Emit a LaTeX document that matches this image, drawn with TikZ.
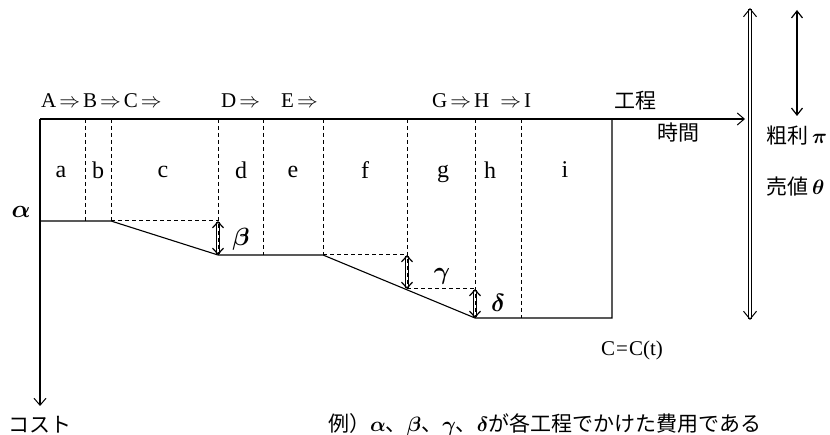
\documentclass[tikz,border=0pt]{standalone}
\usepackage{fontspec}
\usepackage{amsmath}
\setmainfont{Liberation Serif}
\newfontfamily\jp{Noto Sans CJK JP}
\usetikzlibrary{arrows.meta}
\newcommand{\rar}{\hspace{3pt}$\Rightarrow$\hspace{3pt}}
\newcommand{\gk}[1]{{\fontsize{22}{26}\selectfont$\boldsymbol{#1}$}}
\begin{document}
\begin{tikzpicture}[x=1pt,y=-1pt,
  lbl/.style={inner sep=0pt, font=\fontsize{21}{25}\selectfont},
  col/.style={inner sep=0pt, font=\fontsize{24}{28}\selectfont},
  gr/.style={inner sep=0pt, font=\fontsize{23}{27}\selectfont},
  jpl/.style={inner sep=0pt, font=\fontsize{21}{25}\selectfont\jp},
  axis/.style={line width=1.1pt},
  dsh/.style={line width=1pt, dash pattern=on 4pt off 3pt},
  tip/.style={-{Straight Barb[length=7pt,width=12pt,line width=1pt]}},
  dbl/.style={double, double distance=2.6pt, line width=1pt,
    {Straight Barb[length=6pt,width=11pt,line width=1.2pt]}-{Straight Barb[length=6pt,width=11pt,line width=1.2pt]}},
  bigdbl/.style={double, double distance=2.6pt, line width=1pt,
    {Straight Barb[length=8pt,width=13pt,line width=1pt]}-{Straight Barb[length=8pt,width=13pt,line width=1pt]}},
  sgl/.style={line width=1.6pt,
    {Straight Barb[length=7pt,width=11pt,line width=1.2pt]}-{Straight Barb[length=7pt,width=11pt,line width=1.2pt]}},
]
\useasboundingbox (0,0) rectangle (830,435);
% coordinates
\coordinate (O) at (40,119);
\coordinate (T) at (745,119);
\coordinate (K) at (40,406);
\coordinate (c0) at (40,221);
\coordinate (c1) at (111,221);
\coordinate (c2) at (218,255);
\coordinate (c3) at (323,255);
\coordinate (c4) at (475,318);
\coordinate (c5) at (612,318);
\coordinate (c6) at (612,119);
\coordinate (g1) at (407,289);
\coordinate (b1) at (218,221);
\coordinate (g0) at (407,255);
\coordinate (v85a) at (85,119);  \coordinate (v85b) at (85,221);
\coordinate (v111a) at (111,119);
\coordinate (v218a) at (218,119);
\coordinate (v263a) at (263,119); \coordinate (v263b) at (263,255);
\coordinate (v323a) at (323,119);
\coordinate (v407a) at (407,119);
\coordinate (v475a) at (475,119);
\coordinate (v521a) at (521,119); \coordinate (v521b) at (521,318);
\coordinate (R1) at (750,8);  \coordinate (R2) at (750,320);
\coordinate (S1) at (797,10); \coordinate (S2) at (797,116);

% double arrows (drawn first so dashed verticals show inside)
\draw[dbl] (b1) -- (c2);
\draw[dbl] (g0) -- (g1);
\draw[dbl] (g1 -| c4) -- (c4);

% dashed lines
\draw[dsh] (v85a) -- (v85b);
\draw[dsh] (v111a) -- (c1);
\draw[dsh] (v218a) -- (c2);
\draw[dsh] (v263a) -- (v263b);
\draw[dsh] (v323a) -- (c3);
\draw[dsh] (v407a) -- (g1);
\draw[dsh] (v475a) -- (c4);
\draw[dsh] (v521a) -- (v521b);
\draw[dsh] (c1) -- (b1);
\draw[dsh] (c3) -- (g0);
\draw[dsh] (g1) -- (g1 -| c4);

% axes
\draw[axis,tip] (O) -- (T);
\draw[axis,tip] (O) -- (K);
% cost curve
\draw[axis] (c0) -- (c1) -- (c2) -- (c3) -- (c4) -- (c5) -- (c6);

% right arrows
\draw[bigdbl] (R1) -- (R2);
\draw[sgl] (S1) -- (S2);

% top labels
\node[lbl,anchor=west] (l1) at (41,101) {A\rar B\rar C\rar};
\node[lbl,anchor=west] (l2) at (221,101) {D\rar};
\node[lbl,anchor=west] (l3) at (281,101) {E\rar};
\node[lbl,anchor=west] (l4) at (432,101) {G\rar H\hspace{8pt}\rar I};
\node[jpl] (l5) at (635,101) {工程};
\node[jpl] (l6) at (678,133) {時間};

% column letters
\node[col] (a) at (61,172) {a};
\node[col] (b) at (98,170) {b};
\node[col] (c) at (163,172) {c};
\node[col] (d) at (241,170) {d};
\node[col] (e) at (293,172) {e};
\node[col] (f) at (365,170) {f};
\node[col] (g) at (443,174) {g};
\node[col] (h) at (490,170) {h};
\node[col] (i) at (565,170) {i};

% greek labels
\node[gr] (al) at (21,212) {$\boldsymbol{\alpha}$};
\node[gr] (be) at (241,239) {$\boldsymbol{\beta}$};
\node[gr] (ga) at (442,276) {$\boldsymbol{\gamma}$};
\node[gr] (de) at (498,303) {$\boldsymbol{\delta}$};

% right labels
\node[jpl,anchor=west] (pi) at (766,136) {粗利\hspace{4pt}\gk{\pi}};
\node[jpl,anchor=west] (th) at (766,187) {売値\hspace{4pt}\gk{\theta}};

% bottom labels
\node[lbl] (cc) at (632,350) {C\hspace{1pt}=\hspace{1pt}C(t)};
\node[jpl] (ko) at (40,425) {コスト};
\node[jpl,anchor=west] (ex) at (328,425) {例）\gk{\alpha}、\gk{\beta}、\gk{\gamma}、\gk{\delta}が各工程でかけた費用である};
\end{tikzpicture}
\end{document}
